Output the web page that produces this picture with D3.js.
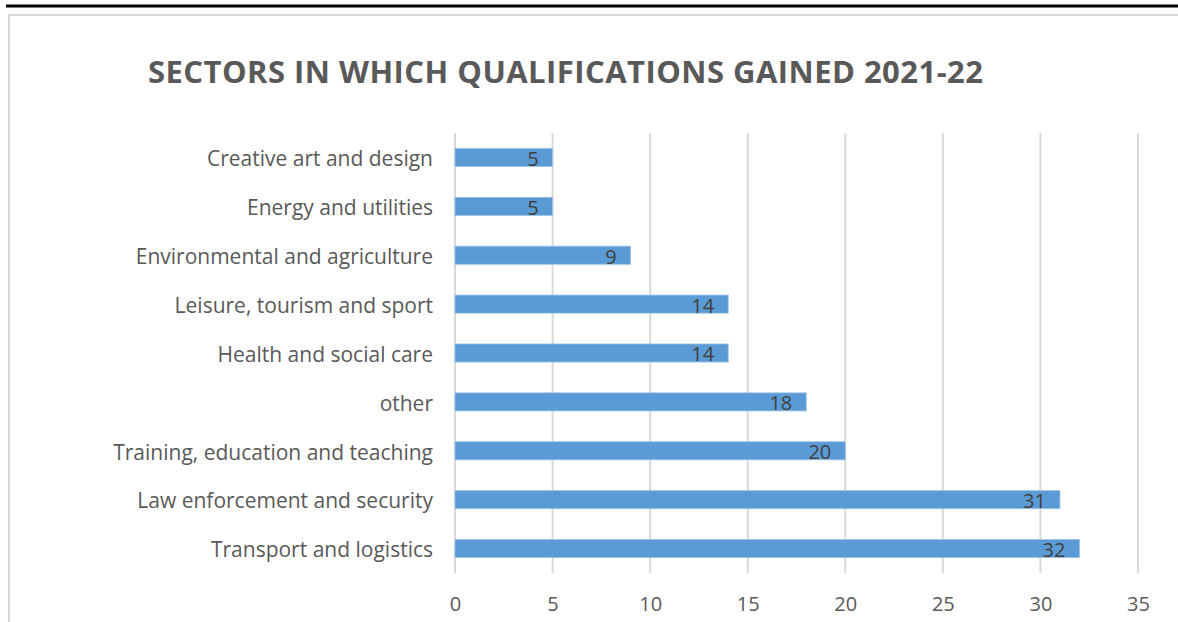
<!DOCTYPE html>
<html>
<head>
<meta charset="utf-8">
<script src="https://cdn.jsdelivr.net/npm/d3@7"></script>
<style>
  body { margin: 0; background: #fff; }
  svg { display: block; }
</style>
</head>
<body>
<div id="chart"></div>
<script>
var sectors = [
    "Creative art and design",
    "Energy and utilities",
    "Environmental and agriculture",
    "Leisure, tourism and sport",
    "Health and social care",
    "other ",
    "Training, education and teaching",
    "Law enforcement and security",
    "Transport and logistics"
];
var counts = [5, 5, 9, 14, 14, 18, 20, 31, 32];
var xTicks = [0, 5, 10, 15, 20, 25, 30, 35];
var chartTitle = "SECTORS IN WHICH QUALIFICATIONS GAINED 2021-22";

var width = 1178, height = 622;
var margin = {top: 133, left: 455, right: 40, bottom: 49};
var pw = 1138 - margin.left, ph = 573 - margin.top;
var font = "'Open Sans', sans-serif";

var svg = d3.select("#chart").append("svg")
    .attr("width", width)
    .attr("height", height);

// black rule and light frame
svg.append("line")
    .attr("x1", 6).attr("x2", width)
    .attr("y1", 6).attr("y2", 6)
    .attr("stroke", "#000").attr("stroke-width", 3);
svg.append("path")
    .attr("d", "M9," + height + "V15H" + width)
    .attr("fill", "none")
    .attr("stroke", "#d9d9d9").attr("stroke-width", 2);

svg.append("text")
    .attr("x", 148).attr("y", 83)
    .attr("textLength", 835)
    .attr("lengthAdjust", "spacing")
    .style("font-family", font)
    .style("font-weight", "bold")
    .style("font-size", "31px")
    .attr("fill", "#595959")
    .text(chartTitle);

var g = svg.append("g")
    .attr("transform", "translate(" + margin.left + "," + margin.top + ")");

var x = d3.scaleLinear().domain([0, 35]).range([0, pw]);
var y = d3.scaleBand().domain(sectors).range([0, ph]).paddingInner(0.63).paddingOuter(0.315);

// gridlines
g.selectAll(".grid")
    .data(xTicks)
    .enter().append("line")
    .attr("class", "grid")
    .attr("x1", d => x(d)).attr("x2", d => x(d))
    .attr("y1", 0).attr("y2", ph)
    .attr("stroke", "#d9d9d9").attr("stroke-width", 2);

var xAxis = g.append("g")
    .attr("transform", "translate(0," + ph + ")")
    .call(d3.axisBottom(x).tickValues(xTicks).tickSize(0).tickPadding(24));
xAxis.select(".domain").remove();
xAxis.selectAll("text")
    .style("font-family", font)
    .style("font-size", "20px")
    .attr("fill", "#595959");

var yAxis = g.append("g")
    .call(d3.axisLeft(y).tickSize(0).tickPadding(22));
yAxis.select(".domain").remove();
yAxis.selectAll("text")
    .attr("dy", "0.42em")
    .style("font-family", font)
    .style("font-size", "21px")
    .attr("fill", "#595959");

var rows = sectors.map(function(s, i) { return {sector: s, value: counts[i]}; });

g.selectAll(".bar")
    .data(rows)
    .enter().append("rect")
    .attr("class", "bar")
    .attr("x", x(0))
    .attr("y", d => y(d.sector))
    .attr("width", d => x(d.value) - x(0))
    .attr("height", y.bandwidth())
    .attr("fill", "#5b9bd5")
    .attr("stroke", "#9dc3e6").attr("stroke-width", 0.8);

g.selectAll(".lbl")
    .data(rows)
    .enter().append("text")
    .attr("class", "lbl")
    .attr("x", d => x(d.value) - 14)
    .attr("y", d => y(d.sector) + y.bandwidth() / 2)
    .attr("dy", "0.42em")
    .attr("text-anchor", "end")
    .style("font-family", font)
    .style("font-size", "20px")
    .attr("fill", "#404040")
    .text(d => d.value);
</script>
</body>
</html>
